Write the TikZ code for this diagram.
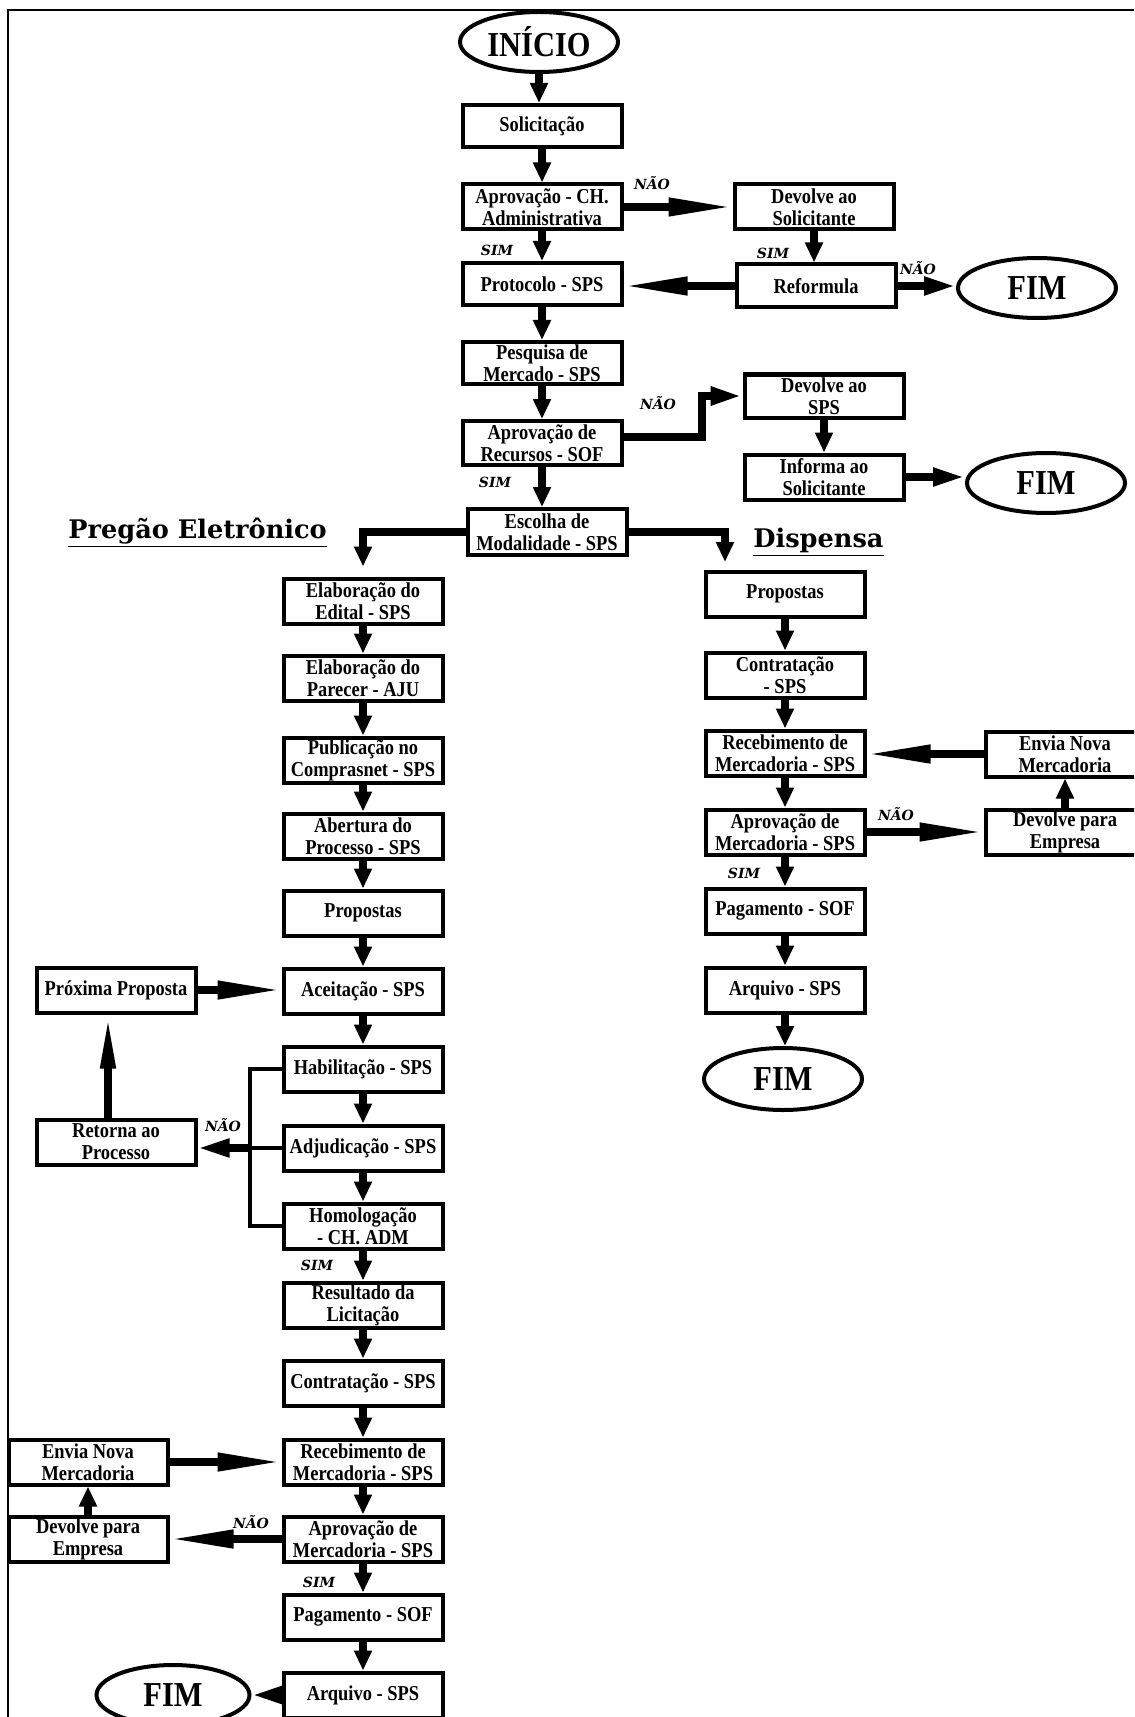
\documentclass[tikz,border=0pt]{standalone}
\usepackage{fontspec}
\setmainfont{Liberation Serif}
\newfontfamily\dvs{DejaVu Serif}
\newfontfamily\boxf[FakeStretch=0.87]{Liberation Serif}
\usetikzlibrary{arrows.meta,shapes.geometric}
\begin{document}
\begin{tikzpicture}[x=0.5pt,y=-0.5pt,
  box/.style={draw, line width=2pt, minimum width=79.5pt, minimum height=22.5pt, inner sep=0pt, align=center, font={\boxf\fontsize{10.6}{11}\selectfont\bfseries}},
  term/.style={draw, ellipse, line width=2pt, minimum width=79pt, minimum height=30pt, inner sep=0pt, font={\boxf\fontsize{17.5}{18}\selectfont\bfseries}},
  lbl/.style={font={\dvs\bfseries\itshape\fontsize{7}{8}\selectfont}, inner sep=0pt},
  ttl/.style={font={\dvs\bfseries\fontsize{12.8}{14}\selectfont}, inner sep=0pt, anchor=base west},
  arrV/.style={line width=3.75pt, -{Triangle[length=10pt,width=8.5pt]}},
  arrM/.style={line width=3.75pt, -{Triangle[length=16pt,width=8.5pt]}},
  arrL/.style={line width=3.75pt, -{Triangle[length=32pt,width=8.5pt]}},
  brk/.style={line width=2pt},
]
\useasboundingbox (0,0) rectangle (1134,1717);
\clip (0,0) rectangle (1134,1717);
% frame
\draw[line width=1pt] (1134,10) -- (8,10) -- (8,1717);

% central column
\node[term] (inicio) at (539,42) {INÍCIO};
\node[box, minimum height=21pt] (solic) at (542,126) {Solicitação};
\node[box] (aprov1) at (542,207) {Aprovação - CH.\\Administrativa};
\node[box] (devsol) at (814,207) {Devolve ao\\Solicitante};
\node[box, minimum height=21pt] (proto) at (542,284) {Protocolo - SPS};
\node[box, minimum height=21.5pt] (reform) at (816,286) {Reformula};
\node[term] (fim1) at (1037,288) {FIM};
\node[box, minimum height=21pt] (pesq) at (542,363) {Pesquisa de\\Mercado - SPS};
\node[box, minimum height=22pt] (aprov2) at (542,443) {Aprovação de\\Recursos - SOF};
\node[box, minimum height=21.5pt] (devsps) at (824,396) {Devolve ao\\SPS};
\node[box] (informa) at (824,477) {Informa ao\\Solicitante};
\node[term] (fim2) at (1046,483) {FIM};
\node[box, minimum height=23pt] (escolha) at (547,532) {Escolha de\\Modalidade - SPS};

% titles
\node[ttl] (tpe) at (68,538) {\underline{Pregão Eletrônico}};
\node[ttl] (tdi) at (753,547) {\underline{Dispensa}};

% left column
\node[box] (edital) at (363,601) {Elaboração do\\Edital - SPS};
\node[box] (parecer) at (363,678) {Elaboração do\\Parecer - AJU};
\node[box] (public) at (363,760) {Publicação no\\Comprasnet - SPS};
\node[box] (abert) at (363,836) {Abertura do\\Processo - SPS};
\node[box] (prop) at (363,913) {Propostas};
\node[box] (aceit) at (363,991) {Aceitação - SPS};
\node[box] (habil) at (363,1069) {Habilitação - SPS};
\node[box] (adjud) at (363,1148) {Adjudicação - SPS};
\node[box] (homol) at (363,1226) {Homologação\\- CH. ADM};
\node[box] (result) at (363,1305) {Resultado da\\Licitação};
\node[box] (contr) at (363,1383) {Contratação - SPS};
\node[box] (receb) at (363,1462) {Recebimento de\\Mercadoria - SPS};
\node[box] (aprovm) at (363,1539) {Aprovação de\\Mercadoria - SPS};
\node[box] (pagam) at (363,1617) {Pagamento - SOF};
\node[box] (arquiv) at (363,1695) {Arquivo - SPS};
\node[term, minimum width=76.5pt] (fim3) at (173,1695) {FIM};
\node[box] (proxima) at (116,990) {Próxima Proposta};
\node[box] (retorna) at (116,1142) {Retorna ao\\Processo};
\node[box] (envL) at (88,1462) {Envia Nova\\Mercadoria};
\node[box] (devL) at (88,1539) {Devolve para\\Empresa};

% right column (Dispensa)
\node[box] (propD) at (785,594) {Propostas};
\node[box] (contrD) at (785,675) {Contratação\\- SPS};
\node[box] (recebD) at (785,753) {Recebimento de\\Mercadoria - SPS};
\node[box] (aprovD) at (785,832) {Aprovação de\\Mercadoria - SPS};
\node[box] (pagD) at (785,911) {Pagamento - SOF};
\node[box] (arqD) at (785,990) {Arquivo - SPS};
\node[term, minimum height=31pt] (fimD) at (783,1079) {FIM};
\node[box] (enviaR) at (1065,754) {Envia Nova\\Mercadoria};
\node[box] (devolveR) at (1065,832) {Devolve para\\Empresa};

% labels
\node[lbl] (n1) at (652,183) {NÃO};
\node[lbl] (s1) at (497,250) {SIM};
\node[lbl] (s2) at (773,253) {SIM};
\node[lbl] (n2) at (918,268) {NÃO};
\node[lbl] (n3) at (658,403) {NÃO};
\node[lbl] (s3) at (495,482) {SIM};
\node[lbl] (n4) at (896,814) {NÃO};
\node[lbl] (s4) at (744,873) {SIM};
\node[lbl] (n5) at (223,1125) {NÃO};
\node[lbl] (s5) at (317,1265) {SIM};
\node[lbl] (n6) at (251,1522) {NÃO};
\node[lbl] (s6) at (319,1582) {SIM};

% helper coordinates
\coordinate (k1) at (702,437);
\coordinate (dj) at (725,562);

% central connectors
\draw[arrV] (inicio.south) -- (inicio.south |- solic.north);
\draw[arrV] (solic) -- (aprov1);
\draw[arrL] (aprov1) -- (devsol);
\draw[arrV] (aprov1) -- (proto);
\draw[arrV] (devsol.south) -- (devsol.south |- reform.north);
\draw[arrL] (reform.west) -- (reform.west -| proto.east);
\draw[arrM] (reform.east) -- (reform.east -| fim1.west);
\draw[arrV] (proto) -- (pesq);
\draw[arrV] (pesq) -- (aprov2);
\draw[arrM, line width=4pt] (aprov2.east |- k1) -- (k1) |- (devsps.west);
\draw[arrV] (aprov2.south) -- (aprov2.south |- escolha.north);
\draw[arrV] (devsps) -- (informa);
\draw[arrM] (informa.east) -- (informa.east -| fim2.west);
\draw[arrV, shorten >=5pt] (escolha.west) -| (edital.north);
\draw[arrV] (escolha.east) -| (dj);

% left connectors
\draw[arrV] (edital) -- (parecer);
\draw[arrV] (parecer) -- (public);
\draw[arrV] (public) -- (abert);
\draw[arrV] (abert) -- (prop);
\draw[arrV] (prop) -- (aceit);
\draw[arrV] (aceit) -- (habil);
\draw[arrV] (habil) -- (adjud);
\draw[arrV] (adjud) -- (homol);
\draw[arrV] (homol) -- (result);
\draw[arrV] (result) -- (contr);
\draw[arrV] (contr) -- (receb);
\draw[arrV] (receb) -- (aprovm);
\draw[arrV] (aprovm) -- (pagam);
\draw[arrV] (pagam) -- (arquiv);
\draw[arrM] (arquiv) -- (fim3);
\draw[arrL] (proxima.east) -- (proxima.east -| aceit.west);
\draw[line width=3.75pt, -{Triangle[length=27pt,width=7pt]}] ([xshift=-4pt]retorna.north) -- ([xshift=-4pt]retorna.north |- proxima.south);
\draw[brk] (habil.west) -- ++(-32,0) |- (homol.west);
\draw[brk] (adjud.west) -- ++(-32,0) coordinate (bk);
\draw[arrM] (bk) -- (bk -| retorna.east);
\draw[arrL] (envL) -- (receb);
\draw[arrL] (aprovm) -- (devL);
\draw[arrV] (devL) -- (envL);

% right connectors
\draw[arrV] (propD) -- (contrD);
\draw[arrV] (contrD) -- (recebD);
\draw[arrV] (recebD) -- (aprovD);
\draw[arrV] (aprovD) -- (pagD);
\draw[arrV] (pagD) -- (arqD);
\draw[arrV] (arqD.south) -- (arqD.south |- fimD.north);
\draw[arrL] (enviaR.west) -- (enviaR.west -| recebD.east);
\draw[arrL] (aprovD) -- (devolveR);
\draw[arrV] (devolveR) -- (enviaR);
\end{tikzpicture}
\end{document}
